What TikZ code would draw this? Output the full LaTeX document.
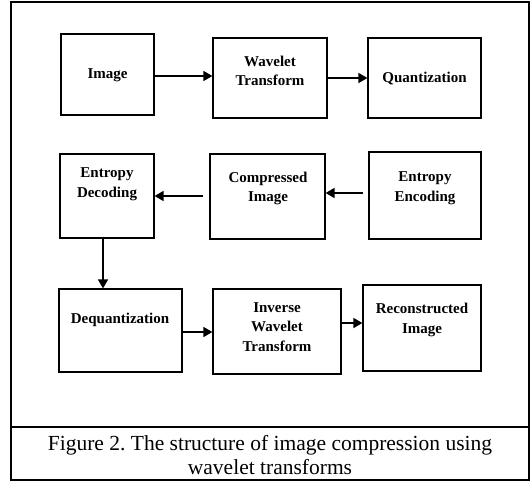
\documentclass[tikz,border=0pt]{standalone}
\usepackage{fontspec}
\setmainfont{Liberation Serif}
\usetikzlibrary{arrows.meta}
\frenchspacing
\begin{document}
\begin{tikzpicture}[x=1pt,y=-1pt,
  box/.style={draw,line width=1.2pt,inner sep=0pt,minimum width=#1},
  lbl/.style={align=center,font=\bfseries\fontsize{15}{19.5}\selectfont,inner sep=0pt},
  arr/.style={line width=1.6pt,-{Triangle[length=9pt,width=10pt]}}]
\useasboundingbox (0,0) rectangle (532,481);
% frame
\draw[line width=2.5pt] (11,2) rectangle (529,480);
\draw[line width=2.5pt] (11,427) -- (529,427);
% boxes
\node[box=93pt,minimum height=81pt]  (img) at (107.5,74.5) {};
\node[box=114pt,minimum height=80pt] (wt)  at (270,78) {};
\node[box=113pt,minimum height=80pt] (q)   at (424.5,78) {};
\node[box=94pt,minimum height=84pt]  (ed)  at (107,196) {};
\node[box=115pt,minimum height=85pt] (ci)  at (267.5,196.5) {};
\node[box=112pt,minimum height=87pt] (ee)  at (425,195.5) {};
\node[box=123pt,minimum height=83pt] (dq)  at (120.5,330.5) {};
\node[box=128pt,minimum height=85pt] (iwt) at (277,331.5) {};
\node[box=118pt,minimum height=86pt] (rc)  at (422,328) {};
% labels
\node[lbl] (imgT) at (107.5,75) {Image};
\node[lbl] (wtT)  at (270,71) {Wavelet\\Transform};
\node[lbl] (qT)   at (424.5,79) {Quantization};
\node[lbl] (edT)  at (107,184) {Entropy\\Decoding};
\node[lbl] (ciT)  at (268,188.5) {Compressed\\Image};
\node[lbl] (eeT)  at (425,188) {Entropy\\Encoding};
\node[lbl] (dqT)  at (120,320) {Dequantization};
\node[lbl] (iwtT) at (277,327) {Inverse\\Wavelet\\Transform};
\node[lbl] (rcT)  at (422,320) {Reconstructed\\Image};
% caption
\node[align=center,inner sep=0pt,font=\fontsize{21.5}{24}\selectfont] (cap) at (270,455)
  {Figure 2. The structure of image compression using\\wavelet transforms};
% arrows
\draw[arr] (img.east |- 0,76) -- (wt.west |- 0,76);
\draw[arr] (wt.east |- 0,78) -- (q.west |- 0,78);
\draw[arr,shorten <=5pt] (ee.west |- 0,193) -- (ci.east |- 0,193);
\draw[arr,shorten <=6pt] (ci.west |- 0,196) -- (ed.east |- 0,196);
\draw[arr] (ed.south -| 103,0) -- (dq.north -| 103,0);
\draw[arr] (dq.east |- 0,332) -- (iwt.west |- 0,332);
\draw[arr] (iwt.east |- 0,323) -- (rc.west |- 0,323);
\end{tikzpicture}
\end{document}
